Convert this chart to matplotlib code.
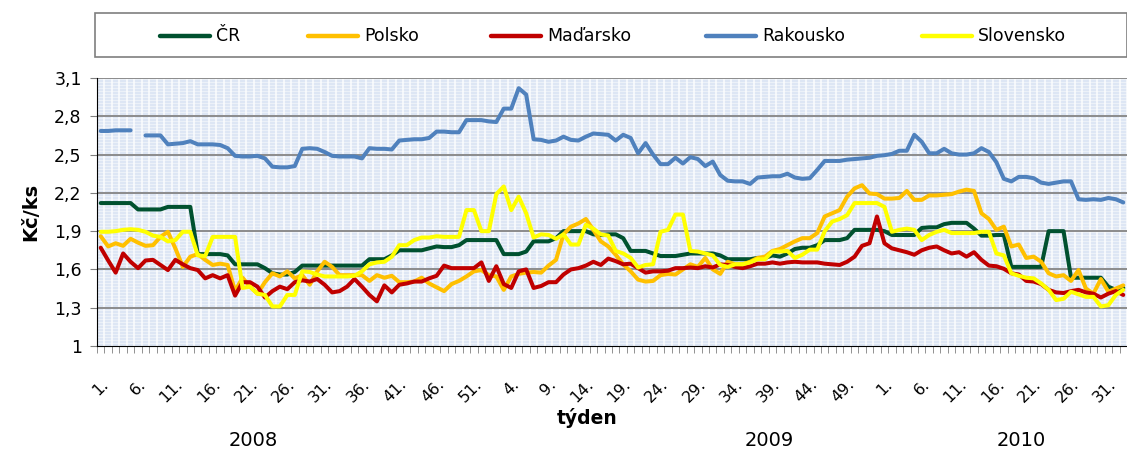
import numpy as np
import matplotlib.pyplot as plt
from matplotlib.patches import Rectangle
from matplotlib.lines import Line2D
import matplotlib.transforms as mtransforms

# ── Data: weekly price, Kč/ks (2008 wk1 .. 2010 wk33) ─────────────────────────
weeks = list(range(1, 53)) + list(range(1, 54)) + list(range(1, 34))
years = ["2008", "2009", "2010"]

cr = [2.12, 2.12, 2.12, 2.12, 2.12, 2.07, 2.07, 2.07, 2.07, 2.09,
      2.09, 2.09, 2.09, 1.72, 1.72, 1.72, 1.72, 1.71, 1.64, 1.64,
      1.64, 1.64, 1.61, 1.57, 1.56, 1.56, 1.58, 1.63, 1.63, 1.63,
      1.63, 1.63, 1.63, 1.63, 1.63, 1.63, 1.68, 1.68, 1.68, 1.71,
      1.75, 1.75, 1.75, 1.75, 1.765, 1.78, 1.775, 1.775, 1.79, 1.83,
      1.83, 1.83, 1.83, 1.83, 1.72, 1.72, 1.72, 1.74, 1.82, 1.82,
      1.82, 1.845, 1.90, 1.90, 1.90, 1.90, 1.875, 1.87, 1.875, 1.875,
      1.845, 1.745, 1.745, 1.745, 1.725, 1.705, 1.705, 1.705, 1.715, 1.725,
      1.725, 1.725, 1.725, 1.71, 1.68, 1.68, 1.68, 1.68, 1.69, 1.69,
      1.71, 1.70, 1.725, 1.76, 1.77, 1.77, 1.79, 1.83, 1.83, 1.83,
      1.845, 1.91, 1.91, 1.91, 1.91, 1.90, 1.87, 1.87, 1.87, 1.87,
      1.925, 1.93, 1.93, 1.955, 1.965, 1.965, 1.965, 1.92, 1.865, 1.865,
      1.87, 1.87, 1.62, 1.62, 1.62, 1.62, 1.62, 1.90, 1.90, 1.90,
      1.535, 1.535, 1.535, 1.535, 1.535, 1.465, 1.44, 1.455]

polsko = [1.86, 1.78, 1.805, 1.785, 1.84, 1.81, 1.785, 1.79, 1.855, 1.895,
          1.765, 1.62, 1.70, 1.72, 1.675, 1.635, 1.645, 1.635, 1.43, 1.535,
          1.465, 1.41, 1.50, 1.57, 1.545, 1.585, 1.53, 1.555, 1.48, 1.585,
          1.66, 1.62, 1.555, 1.555, 1.555, 1.555, 1.51, 1.555, 1.535, 1.55,
          1.50, 1.50, 1.505, 1.535, 1.49, 1.46, 1.43, 1.485, 1.51, 1.545,
          1.585, 1.595, 1.555, 1.545, 1.44, 1.545, 1.565, 1.575, 1.58, 1.575,
          1.63, 1.675, 1.875, 1.935, 1.96, 1.995, 1.91, 1.82, 1.78, 1.715,
          1.64, 1.585, 1.52, 1.505, 1.51, 1.555, 1.565, 1.56, 1.60, 1.64,
          1.62, 1.69, 1.60, 1.565, 1.66, 1.64, 1.64, 1.66, 1.69, 1.70,
          1.745, 1.76, 1.79, 1.82, 1.845, 1.845, 1.885, 2.015, 2.04, 2.065,
          2.17, 2.235, 2.26, 2.195, 2.19, 2.155, 2.155, 2.16, 2.215, 2.145,
          2.145, 2.18, 2.18, 2.185, 2.19, 2.21, 2.225, 2.215, 2.04, 1.995,
          1.91, 1.935, 1.78, 1.795, 1.69, 1.70, 1.66, 1.57, 1.545, 1.555,
          1.51, 1.595, 1.45, 1.41, 1.525, 1.425, 1.45, 1.475]

madarsko = [1.77, 1.67, 1.575, 1.725, 1.66, 1.61, 1.67, 1.675, 1.635, 1.595,
            1.675, 1.64, 1.61, 1.595, 1.53, 1.555, 1.53, 1.555, 1.395, 1.50,
            1.50, 1.465, 1.38, 1.43, 1.465, 1.445, 1.50, 1.515, 1.505, 1.525,
            1.48, 1.42, 1.43, 1.465, 1.525, 1.465, 1.40, 1.35, 1.475, 1.42,
            1.48, 1.49, 1.505, 1.505, 1.53, 1.55, 1.63, 1.61, 1.61, 1.61,
            1.61, 1.655, 1.51, 1.625, 1.485, 1.455, 1.585, 1.60, 1.455, 1.47,
            1.50, 1.50, 1.56, 1.60, 1.61, 1.63, 1.66, 1.635, 1.685, 1.665,
            1.64, 1.645, 1.61, 1.575, 1.585, 1.585, 1.59, 1.61, 1.61, 1.615,
            1.61, 1.625, 1.615, 1.64, 1.635, 1.62, 1.61, 1.625, 1.645, 1.645,
            1.655, 1.645, 1.655, 1.66, 1.655, 1.655, 1.655, 1.645, 1.64, 1.635,
            1.66, 1.70, 1.785, 1.805, 2.015, 1.805, 1.765, 1.75, 1.735, 1.715,
            1.75, 1.77, 1.78, 1.75, 1.725, 1.735, 1.70, 1.735, 1.675, 1.63,
            1.625, 1.605, 1.57, 1.56, 1.51, 1.505, 1.485, 1.44, 1.42, 1.415,
            1.43, 1.44, 1.42, 1.41, 1.38, 1.41, 1.43, 1.40]

rakousko = [2.685, 2.685, 2.69, 2.69, 2.69, np.nan, 2.65, 2.65, 2.65, 2.58,
            2.585, 2.59, 2.605, 2.58, 2.58, 2.58, 2.575, 2.55, 2.49, 2.485,
            2.485, 2.49, 2.47, 2.405, 2.40, 2.40, 2.41, 2.545, 2.55, 2.545,
            2.52, 2.49, 2.485, 2.485, 2.485, 2.47, 2.55, 2.545, 2.545, 2.54,
            2.61, 2.615, 2.62, 2.62, 2.63, 2.68, 2.68, 2.675, 2.675, 2.77,
            2.77, 2.77, 2.76, 2.755, 2.86, 2.86, 3.02, 2.97, 2.62, 2.615,
            2.60, 2.61, 2.64, 2.615, 2.61, 2.64, 2.665, 2.66, 2.655, 2.61,
            2.655, 2.63, 2.51, 2.59, 2.50, 2.425, 2.425, 2.475, 2.43, 2.48,
            2.465, 2.41, 2.445, 2.34, 2.295, 2.29, 2.29, 2.27, 2.32, 2.325,
            2.33, 2.33, 2.35, 2.32, 2.31, 2.315, 2.38, 2.45, 2.45, 2.45,
            2.46, 2.465, 2.47, 2.475, 2.49, 2.495, 2.505, 2.53, 2.53, 2.655,
            2.60, 2.51, 2.51, 2.545, 2.51, 2.50, 2.50, 2.51, 2.55, 2.52,
            2.44, 2.31, 2.29, 2.325, 2.325, 2.315, 2.28, 2.27, 2.28, 2.29,
            2.29, 2.15, 2.145, 2.15, 2.145, 2.16, 2.15, 2.125]

slovensko = [1.895, 1.895, 1.90, 1.91, 1.915, 1.91, 1.895, 1.865, 1.855, 1.82,
             1.83, 1.895, 1.895, 1.71, 1.705, 1.855, 1.855, 1.855, 1.855, 1.455,
             1.465, 1.41, 1.40, 1.31, 1.31, 1.40, 1.40, 1.585, 1.58, 1.56,
             1.545, 1.545, 1.545, 1.545, 1.55, 1.585, 1.64, 1.655, 1.66, 1.70,
             1.79, 1.79, 1.83, 1.85, 1.85, 1.86, 1.855, 1.855, 1.855, 2.065,
             2.065, 1.90, 1.90, 2.19, 2.25, 2.065, 2.17, 2.04, 1.85, 1.875,
             1.87, 1.84, 1.875, 1.795, 1.795, 1.95, 1.92, 1.875, 1.865, 1.745,
             1.725, 1.69, 1.615, 1.635, 1.64, 1.895, 1.91, 2.03, 2.03, 1.745,
             1.74, 1.725, 1.71, 1.635, 1.62, 1.64, 1.64, 1.655, 1.68, 1.68,
             1.74, 1.74, 1.745, 1.69, 1.715, 1.755, 1.755, 1.90, 1.975, 1.995,
             2.025, 2.12, 2.12, 2.12, 2.12, 2.09, 1.895, 1.91, 1.92, 1.91,
             1.83, 1.87, 1.895, 1.91, 1.885, 1.885, 1.885, 1.885, 1.895, 1.895,
             1.725, 1.71, 1.57, 1.55, 1.535, 1.53, 1.49, 1.44, 1.36, 1.37,
             1.425, 1.405, 1.385, 1.385, 1.31, 1.32, 1.40, 1.44]

series = [("ČR", cr, "#00512F"),
          ("Polsko", polsko, "#FFC000"),
          ("Maďarsko", madarsko, "#C00000"),
          ("Rakousko", rakousko, "#4F81BD"),
          ("Slovensko", slovensko, "#FFFF00")]

for name, vals, _ in series:
    assert len(vals) == len(weeks), (name, len(vals))

# ── Plot ──────────────────────────────────────────────────────────────────────
W, H = 1127, 450
fig = plt.figure(figsize=(W / 100, H / 100), dpi=100)
ax = fig.add_axes([97 / W, 1 - 346 / H, 1 - 97 / W, (346 - 78) / H])

n = len(weeks)
x = np.arange(n)

# patterned light-blue plot area
ax.set_facecolor("#dde6f4")
for b in np.arange(-0.5, n, 1.0):
    ax.axvline(b, color="white", lw=1.5, alpha=0.7, zorder=0)
for yy in np.arange(1.0, 3.1, 0.0235):
    ax.axhline(yy, color="white", lw=0.8, alpha=0.45, zorder=0)

yticks = np.round(np.arange(1.0, 3.11, 0.3), 1)
for yy in yticks[1:]:
    ax.axhline(yy, color="#8c8c8c", lw=1.4, zorder=1)

for name, vals, col in series:
    ax.plot(x, vals, color=col, lw=2.9, solid_capstyle="round",
            solid_joinstyle="round", label=name, zorder=3)

ax.set_xlim(-0.5, n - 0.5)
ax.set_ylim(1.0, 3.1)

ax.set_yticks(yticks)
ax.set_yticklabels([f"{v:.1f}".replace(".", ",").replace(",0", "") for v in yticks],
                   fontsize=12.5)
ax.tick_params(axis="y", length=5, color="#808080", pad=6)

lab_idx = list(range(0, n, 5))
ax.set_xticks(lab_idx)
ax.set_xticklabels([f"{weeks[i]}." for i in lab_idx], rotation=45,
                   ha="right", rotation_mode="anchor", fontsize=11.5)
ax.tick_params(axis="x", which="major", length=0, pad=22)
ax.set_xticks(np.arange(-0.5, n, 1.0), minor=True)
ax.tick_params(axis="x", which="minor", length=5, color="#808080")

for s in ["top", "right"]:
    ax.spines[s].set_visible(False)
ax.spines["left"].set_color("black")
ax.spines["bottom"].set_color("black")

ax.set_ylabel("Kč/ks", fontsize=14, fontweight="bold", labelpad=10)
fig.text(587 / W, 1 - 418 / H, "týden", fontsize=13.5, fontweight="bold",
         ha="center", va="center")

trans = mtransforms.blended_transform_factory(ax.transData, fig.transFigure)
for lbl, xi in zip(years, [20.4, 89.6, 123.3]):
    ax.text(xi, 1 - 440 / H, lbl, transform=trans, fontsize=14,
            ha="center", va="center")

# legend box on top, entries placed like the Excel legend
fig.add_artist(Rectangle((95 / W, 1 - 57 / H), 1 - 95 / W, 44 / H,
                         transform=fig.transFigure, facecolor="white",
                         edgecolor="#7f7f7f", lw=1.2))
leg_x = [160, 308, 491, 706, 922]
leg_y = 1 - 36 / H
for (name, _, col), lx in zip(series, leg_x):
    fig.add_artist(Line2D([lx / W, (lx + 50) / W], [leg_y, leg_y],
                          transform=fig.transFigure, color=col, lw=3.2,
                          solid_capstyle="round"))
    fig.text((lx + 56) / W, leg_y, name, fontsize=12.5, ha="left",
             va="center")

fig.savefig("out.png", dpi=100)
